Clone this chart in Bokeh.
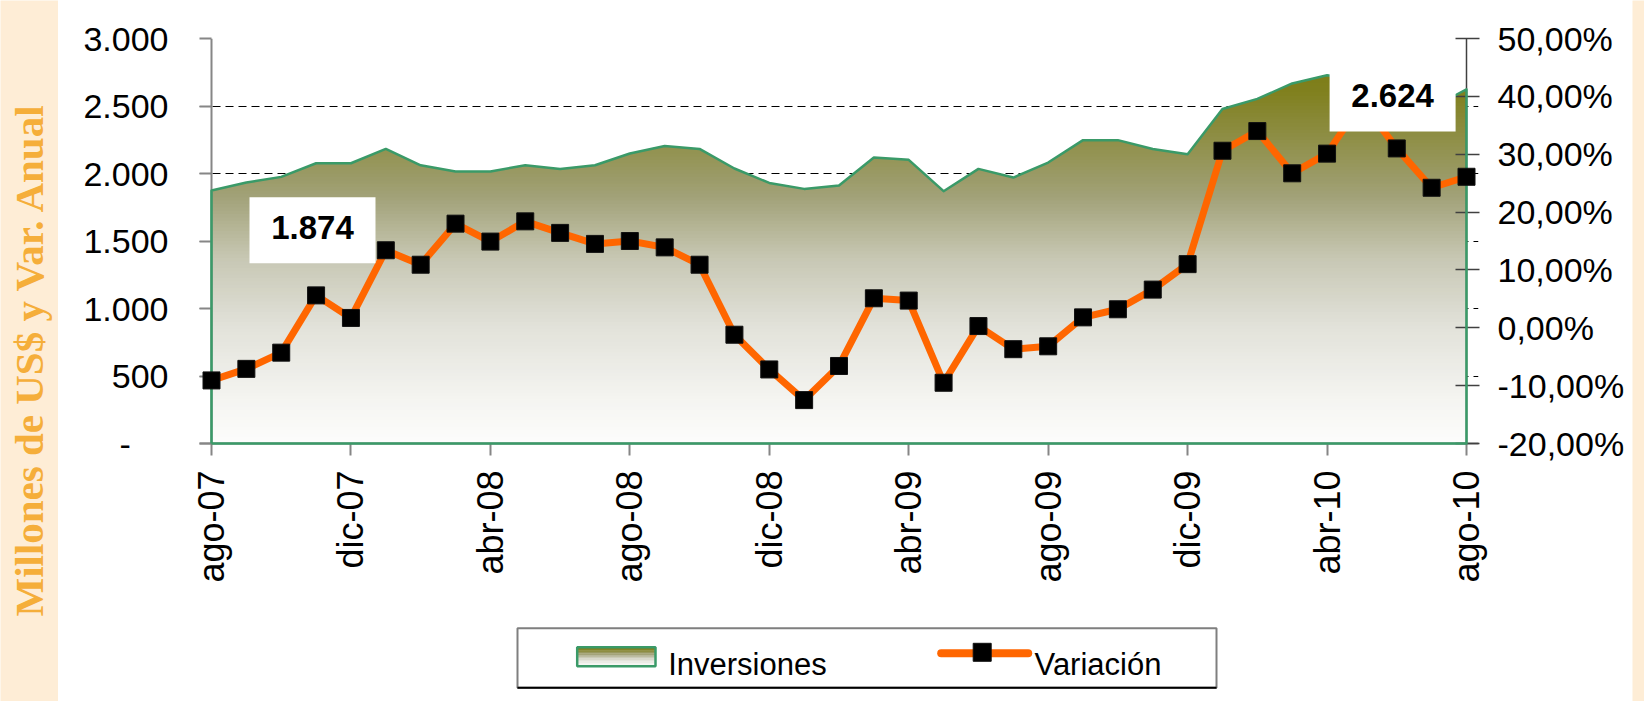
import math
import numpy as np
from bokeh.plotting import figure
from bokeh.models import Range1d, LinearAxis, FixedTicker
from bokeh.layouts import row, column
from bokeh.core.properties import value
from bokeh.embed import file_html
from bokeh.resources import INLINE

# ---------------- data ----------------
months = ["ago-07", "sep-07", "oct-07", "nov-07", "dic-07", "ene-08", "feb-08", "mar-08",
          "abr-08", "may-08", "jun-08", "jul-08", "ago-08", "sep-08", "oct-08", "nov-08",
          "dic-08", "ene-09", "feb-09", "mar-09", "abr-09", "may-09", "jun-09", "jul-09",
          "ago-09", "sep-09", "oct-09", "nov-09", "dic-09", "ene-10", "feb-10", "mar-10",
          "abr-10", "may-10", "jun-10", "jul-10", "ago-10"]
inversiones = [1874, 1933, 1975, 2076, 2076, 2182, 2061, 2015, 2015, 2061, 2034, 2061,
               2148, 2204, 2182, 2037, 1930, 1886, 1911, 2118, 2101, 1869, 2034, 1970,
               2081, 2247, 2247, 2182, 2143, 2478, 2553, 2667, 2728, 2690, 2590, 2485, 2624]
variacion = [-9.1, -7.1, -4.3, 5.6, 1.7, 13.4, 10.9, 18.0, 14.9, 18.4, 16.4, 14.5,
             15.0, 13.9, 10.9, -1.2, -7.2, -12.5, -6.6, 5.1, 4.7, -9.5, 0.3, -3.7,
             -3.2, 1.8, 3.2, 6.6, 11.0, 30.6, 34.0, 26.7, 30.1, 39.0, 31.0, 24.2, 26.1]
left_ticks = [0, 500, 1000, 1500, 2000, 2500, 3000]
right_ticks = [-20, -10, 0, 10, 20, 30, 40, 50]
month_tick_step = 4
series_names = ["Inversiones", "Variación"]
y_title = "Millones de US$ y Var. Anual"
labelled_points = [0, 36]

# ---------------- style ----------------
FONT = "Liberation Sans"
CREAM = "#FEEDD6"
TITLE_COLOR = "#F5AE3A"
GREEN = "#3A9A68"
ORANGE = "#FF6600"
AXIS_GRAY = "#868686"
YTICK_SIZE = "34px"
XTICK_SIZE = "36px"
stop_v = [0, 373, 862, 1358, 1855, 2600, 3000]
stop_rgb = [(253, 253, 252), (243, 243, 239), (226, 226, 218), (200, 200, 181),
            (160, 160, 117), (128, 128, 31), (120, 120, 8)]


def grad_color(v):
    r = np.interp(v, stop_v, [c[0] for c in stop_rgb])
    g = np.interp(v, stop_v, [c[1] for c in stop_rgb])
    b = np.interp(v, stop_v, [c[2] for c in stop_rgb])
    return "#%02x%02x%02x" % (int(round(r)), int(round(g)), int(round(b)))


def fmt_thousands(t):
    return f"{t:,}".replace(",", ".")


def strip(w, h):
    f = figure(width=w, height=h, output_backend="svg", toolbar_location=None,
               x_range=Range1d(0, w), y_range=Range1d(0, h), min_border=0,
               x_axis_location=None, y_axis_location=None)
    f.background_fill_color = CREAM
    f.border_fill_color = CREAM
    f.outline_line_color = None
    f.grid.visible = False
    return f


n = len(months)
x = np.arange(n, dtype=float)
inv = np.array(inversiones, dtype=float)
var = np.array(variacion, dtype=float)

W_TOTAL, H_TOTAL = 1644, 701
W_LEFT, W_RIGHT, H_TOP = 58, 12, 6
W_MAIN = W_TOTAL - W_LEFT - W_RIGHT          # 1574
H_MAIN = 594
H_LEG = H_TOTAL - H_TOP - H_MAIN             # 101
BL, BR = 141, 154

# ---------------- main figure ----------------
PAD = 12 * (n - 1) / 1255.0
p = figure(width=W_MAIN, height=H_MAIN, output_backend="svg", toolbar_location=None,
           x_range=Range1d(-PAD, n - 1 + PAD),
           y_range=Range1d(left_ticks[0], left_ticks[-1]),
           min_border_left=BL, min_border_right=BR, min_border_top=32, min_border_bottom=157)
p.extra_y_ranges = {"pct": Range1d(right_ticks[0], right_ticks[-1])}
p.outline_line_color = None
p.background_fill_color = "white"
p.border_fill_color = "white"

# x axis
xa = p.below[0]
xa.ticker = FixedTicker(ticks=list(range(0, n, month_tick_step)))
xa.major_label_overrides = {i: months[i] for i in range(0, n, month_tick_step)}
xa.major_label_orientation = math.pi / 2
xa.major_tick_in = 0
xa.major_tick_out = 12
xa.minor_tick_in = 0
xa.minor_tick_out = 0
xa.major_label_standoff = 15
xa.axis_line_color = AXIS_GRAY
xa.axis_line_width = 2
xa.major_tick_line_color = AXIS_GRAY
xa.major_tick_line_width = 2
xa.major_label_text_font = FONT
xa.major_label_text_font_size = XTICK_SIZE
xa.major_label_text_color = "black"

# left axis (ticks reach inward from the frame edge to the value axis line)
ya = p.left[0]
ya.ticker = FixedTicker(ticks=left_ticks)
ya.major_label_overrides = {t: (fmt_thousands(t) if t else "-" + "\u00a0" * 4) for t in left_ticks}
ya.major_tick_in = 12
ya.major_tick_out = 0
ya.minor_tick_in = 0
ya.minor_tick_out = 0
ya.major_label_standoff = 31
ya.axis_line_color = None
ya.major_tick_line_color = AXIS_GRAY
ya.major_tick_line_width = 2
ya.major_label_text_font = FONT
ya.major_label_text_font_size = YTICK_SIZE
ya.major_label_text_color = "black"

# right axis
ra = LinearAxis(y_range_name="pct", ticker=FixedTicker(ticks=right_ticks))
ra.major_label_overrides = {t: f"{t:.2f}".replace(".", ",") + "%" for t in right_ticks}
ra.major_tick_in = 23
ra.major_tick_out = 1
ra.minor_tick_in = 0
ra.minor_tick_out = 0
ra.major_label_standoff = 18
ra.axis_line_color = None
ra.major_tick_line_color = "#404040"
ra.major_tick_line_width = 1.5
ra.major_label_text_font = FONT
ra.major_label_text_font_size = YTICK_SIZE
ra.major_label_text_color = "black"
p.add_layout(ra, "right")

# grid
p.xgrid.visible = False
p.ygrid.ticker = FixedTicker(ticks=left_ticks[1:-1])
p.ygrid.grid_line_color = "black"
p.ygrid.grid_line_dash = "8 5"
p.ygrid.grid_line_width = 1

# gradient-filled area (stacked bands, darkest first)
xs = np.linspace(0, n - 1, (n - 1) * 24 + 1)
ys = np.interp(xs, x, inv)
top = ys.max()
levels = [top] + [h for h in np.arange(left_ticks[-1], 0, -25.0) if h < top]
for h in levels:
    p.varea(x=xs, y1=np.zeros_like(xs), y2=np.minimum(ys, h), fill_color=grad_color(h - 12.5))

# value-axis lines at first / last category
p.segment(x0=[x[0]], y0=[left_ticks[0]], x1=[x[0]], y1=[left_ticks[-1]],
          line_color=AXIS_GRAY, line_width=2)
p.segment(x0=[x[-1]], y0=[left_ticks[0]], x1=[x[-1]], y1=[left_ticks[-1]],
          line_color="#404040", line_width=1.5)

# area outline
ox = np.concatenate([[x[0]], x, [x[-1], x[0]]])
oy = np.concatenate([[0.0], inv, [0.0, 0.0]])
p.line(ox, oy, line_color=GREEN, line_width=2.5, line_join="round", level="overlay")

# variation line + markers
p.line(x, var, y_range_name="pct", line_color=ORANGE, line_width=7, line_join="round",
       level="overlay")
p.scatter(x, var, y_range_name="pct", marker="square", size=17, fill_color="black",
          line_color="#111111", level="overlay")

# value labels (first and last point)
label_box_x = [2.897, 33.88]
label_box_y = [1580, 2556]
label_texts = [fmt_thousands(inversiones[i]) for i in labelled_points]
p.rect(x=label_box_x, y=label_box_y, width=126, height=66, width_units="screen",
       height_units="screen", fill_color="white", line_color=None, level="overlay")
p.text(x=label_box_x, y=label_box_y, text=label_texts, text_font=value(FONT),
       text_font_style="bold", text_font_size="33px", text_align="center",
       text_baseline="middle", text_color="black", y_offset=-3, level="overlay")

# ---------------- cream strips ----------------
ls = strip(W_LEFT, H_TOTAL)
ls.text(x=[28.5], y=[H_TOTAL - 359], text=[y_title], angle=math.pi / 2,
        text_font=value("Liberation Serif"), text_font_style="bold", text_font_size="41px",
        text_color=TITLE_COLOR, text_align="center", text_baseline="middle")
rs = strip(W_RIGHT, H_TOTAL)
ts = strip(W_MAIN, H_TOP)

# ---------------- legend (page coordinates, frame aligned with main frame) ----------------
lg = figure(width=W_MAIN, height=H_LEG, output_backend="svg", toolbar_location=None,
            x_range=Range1d(W_LEFT + BL, W_LEFT + W_MAIN - BR), y_range=Range1d(0, H_LEG),
            min_border_left=BL, min_border_right=BR, min_border_top=0, min_border_bottom=0,
            x_axis_location=None, y_axis_location=None)
lg.background_fill_color = "white"
lg.border_fill_color = "white"
lg.outline_line_color = None
lg.grid.visible = False


def py(page_y):
    return H_TOTAL - page_y


lg.quad(left=[517], right=[1216], bottom=[py(687.3)], top=[py(627.7)], fill_color="white",
        line_color="#7F7F7F", line_width=2)
lg.segment(x0=[517], y0=[py(687.3)], x1=[1216], y1=[py(687.3)], line_color="black", line_width=2)
sw_l, sw_r, sw_t, sw_b = 576.7, 655.0, py(646.7), py(665.7)
nb = 12
edges = np.linspace(sw_t, sw_b, nb + 1)
for i in range(nb):
    lg.quad(left=[sw_l], right=[sw_r], top=[edges[i]], bottom=[edges[i + 1] - 0.3],
            fill_color=grad_color(2900 * (1 - (i + 0.5) / nb)), line_color=None)
lg.quad(left=[sw_l], right=[sw_r], bottom=[sw_b], top=[sw_t], fill_color=None,
        line_color=GREEN, line_width=2.5)
lg.text(x=[667.7], y=[py(664.3)], text=[series_names[0]], text_font=value(FONT),
        text_font_size="31px", text_color="black", text_baseline="alphabetic")
lg.line(x=[940.7, 1027.7], y=[py(652.7), py(652.7)], line_color=ORANGE, line_width=8,
        line_cap="round")
lg.scatter(x=[981.7], y=[py(651.8)], marker="square", size=18, fill_color="black",
           line_color="#111111")
lg.text(x=[1034], y=[py(664.3)], text=[series_names[1]], text_font=value(FONT),
        text_font_size="31px", text_color="black", text_baseline="alphabetic")

layout = row(ls, column(ts, p, lg), rs)
open("out.html", "w").write(file_html(layout, INLINE))
